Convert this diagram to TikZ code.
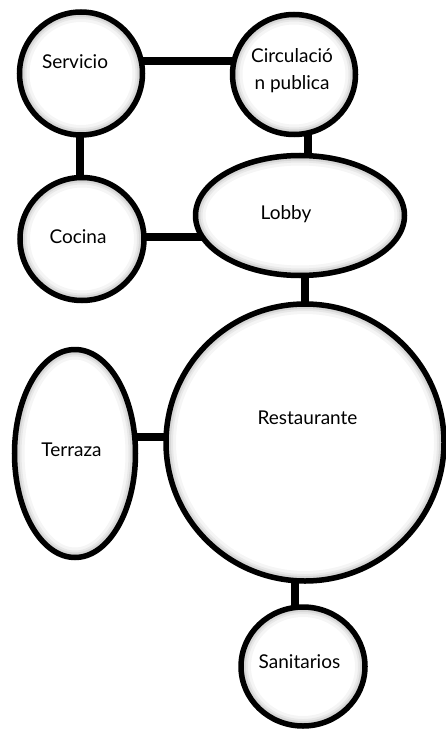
\documentclass[tikz,border=0pt]{standalone}
\usepackage{fontspec}
\setmainfont{Lato}
\usetikzlibrary{shapes.geometric,backgrounds}
\begin{document}
\begin{tikzpicture}[
        x=1pt, y=-1pt,
        room/.style n args={2}{ellipse, draw, line width=5.5pt, fill=white, inner sep=0pt,
            minimum width=#1pt, minimum height=#2pt,
            path picture={\foreach \w/\o in {20/0.04,14/0.05,10/0.07,6/0.09,3/0.12}
                \draw[black, opacity=\o, line width=\w pt] (path picture bounding box.center)
                    ellipse [x radius=#1pt/2, y radius=#2pt/2];}},
        link/.style={line width=7.5pt, black},
        every label/.style={font=\fontsize{19}{27}\selectfont, align=center, inner sep=0pt}
    ]
        \useasboundingbox (0,0) rectangle (445,730);

        % Rooms
        \node[room={123}{123}, label={[xshift=-6pt, yshift=11.5pt]center:Servicio}] (serv) at (81,73.5) {};
        \node[room={123}{120}, label={[xshift=-2pt, yshift=3.5pt]center:Circulació\\n publica}] (circ) at (294,74.5) {};
        \node[room={124}{123}, label={[xshift=-4pt, yshift=2pt]center:Cocina}] (coc) at (82,239) {};
        \node[room={209}{120}, label={[xshift=-14pt, yshift=1.5pt]center:Lobby}] (lobby) at (300,215.5) {};
        \node[room={278}{277}, label={[xshift=2.5pt, yshift=25pt]center:Restaurante}] (rest) at (305,442.5) {};
        \node[room={121}{208}, label={[xshift=-3.5pt, yshift=4pt]center:Terraza}] (terr) at (75,453.5) {};
        \node[room={124}{119}, label={[xshift=-3.5pt, yshift=5pt]center:Sanitarios}] (sani) at (303,666.5) {};

        % Links
        \begin{scope}[on background layer]
            \draw[link] ([yshift=12.5pt]serv.center) -- ([yshift=13.5pt]circ.center);
            \draw[link] ([xshift=-1pt]serv.center) -- ([xshift=-2pt]coc.center);
            \draw[link] ([xshift=14pt]circ.center) -- ([xshift=8pt]lobby.center);
            \draw[link] ([yshift=2pt]coc.center) -- ([yshift=-21.5pt]lobby.center);
            \draw[link] ([xshift=5pt]lobby.center) -- (rest.center);
            \draw[link] ([yshift=16.5pt]terr.center) -- ([yshift=5.5pt]rest.center);
            \draw[link] ([xshift=-10pt]rest.center) -- ([xshift=-8pt]sani.center);
        \end{scope}
    \end{tikzpicture}
\end{document}
